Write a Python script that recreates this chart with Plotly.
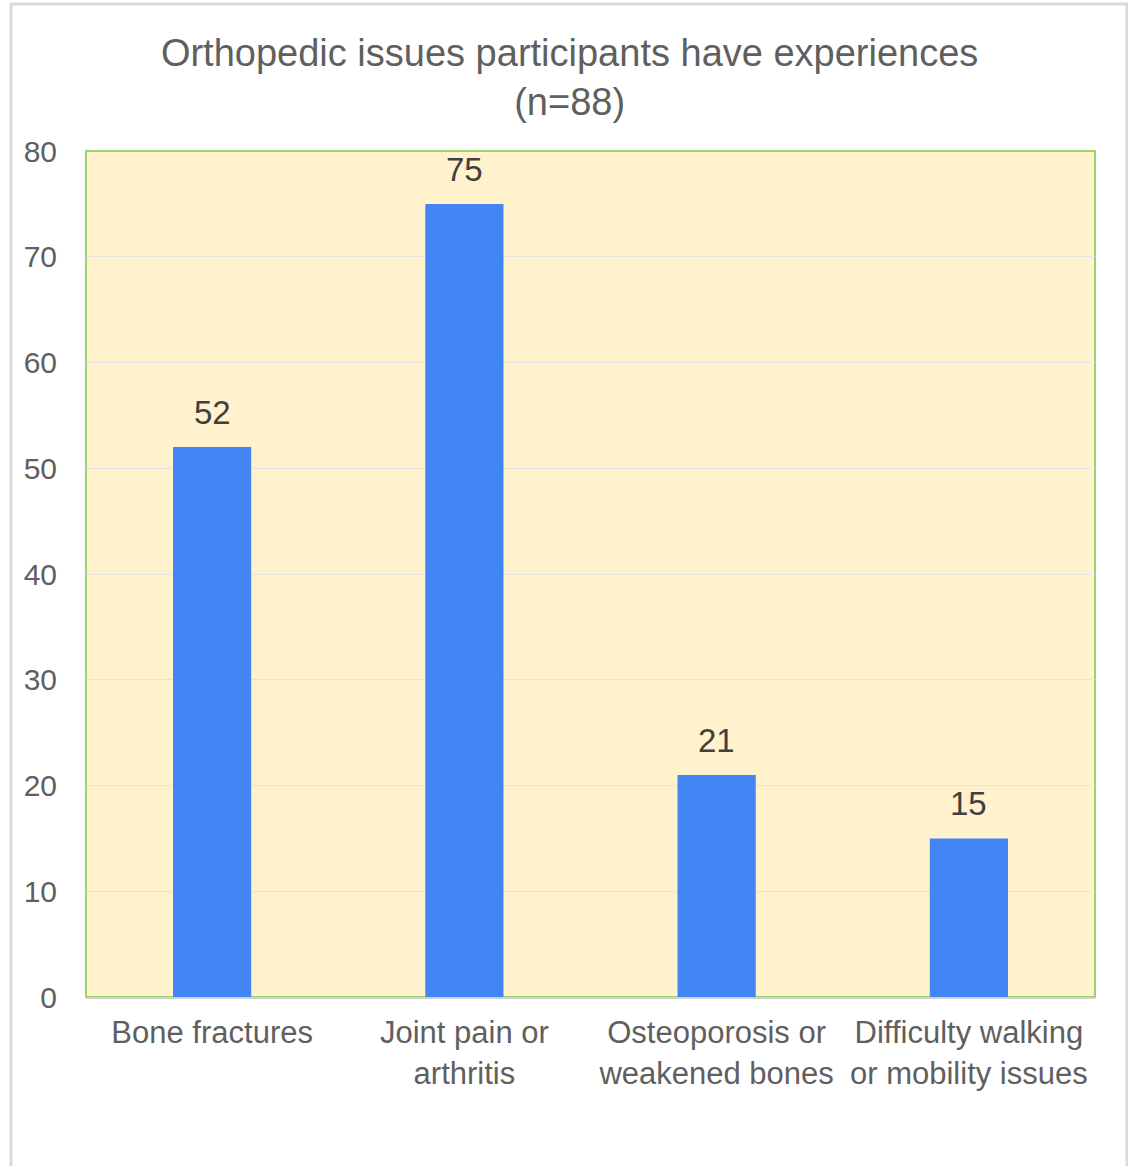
import plotly.graph_objects as go

categories = ["Bone fractures", "Joint pain or<br>arthritis", "Osteoporosis or<br>weakened bones", "Difficulty walking<br>or mobility issues"]
values = [52, 75, 21, 15]
y_ticks = [0, 10, 20, 30, 40, 50, 60, 70, 80]

W, H = 1128, 1166
L, R, T, B = 86, 33, 151, 169
ph = H - T - B
pw = W - L - R

font_family = "Liberation Sans, Arial, sans-serif"

fig = go.Figure(go.Bar(
    x=categories, y=values,
    marker=dict(color="#4285f4", line=dict(width=0)),
    cliponaxis=False,
))

annotations = [
    dict(x=c, y=v, xref="x", yref="y", text=str(v), showarrow=False,
         yanchor="bottom", yshift=14,
         font=dict(size=33, color="#404040", family=font_family))
    for c, v in zip(categories, values)
]

shapes = [
    dict(type="rect", xref="paper", yref="paper", x0=0, x1=1, y0=0, y1=1,
         line=dict(color="#9cd46c", width=2), layer="below"),
    dict(type="rect", xref="paper", yref="paper",
         x0=(11 - L) / pw, x1=(1127 - L) / pw,
         y0=(H - B - 1175) / ph, y1=(H - B - 4) / ph,
         line=dict(color="#d9d9d9", width=3)),
]

fig.update_layout(
    width=W, height=H,
    margin=dict(l=L, r=R, t=T, b=B),
    paper_bgcolor="white", plot_bgcolor="#fff2cc",
    title=dict(text="Orthopedic issues participants have experiences<br>(n=88)",
               x=0.505, xanchor="center", y=1 - 66 / H, yanchor="middle",
               font=dict(size=38, color="#5f5f5f", family=font_family)),
    bargap=0.69,
    showlegend=False,
    shapes=shapes,
    annotations=annotations,
    font=dict(family=font_family),
)
fig.update_xaxes(showgrid=False, showline=True, linecolor="#d0d0d0", linewidth=2,
                 tickfont=dict(size=31, color="#5f5f5f"), ticks="", ticklabelstandoff=7)
fig.update_yaxes(range=[0, 80], tickvals=y_ticks, showgrid=True, gridcolor="#e3e3e3",
                 gridwidth=1, zeroline=False, showline=False,
                 tickfont=dict(size=30, color="#5f5f5f"), ticks="", ticklabelstandoff=28)

fig.write_html("out.html")
